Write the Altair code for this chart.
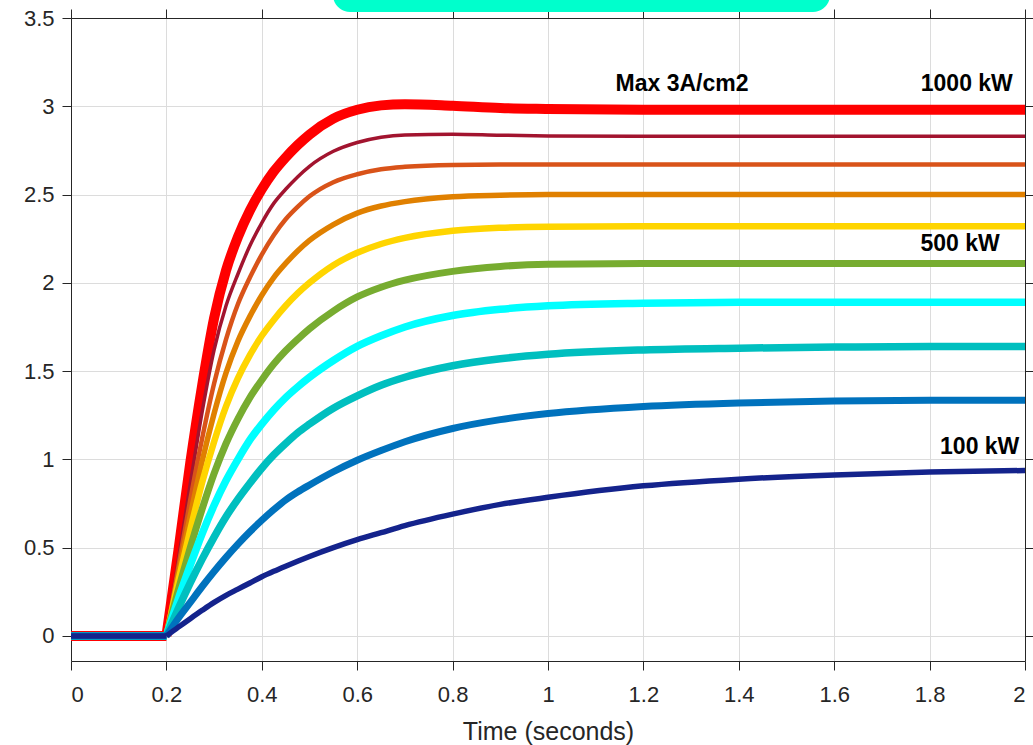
import altair as alt
import pandas as pd

times = [0.0, 0.2, 0.225, 0.25, 0.275, 0.3, 0.325, 0.35, 0.375, 0.4, 0.425, 0.45,
         0.475, 0.5, 0.55, 0.6, 0.65, 0.7, 0.8, 0.9, 1.0, 1.2, 1.4, 1.6, 1.8, 2.0]

series_names = ["1000 kW", "900 kW", "800 kW", "700 kW", "600 kW",
                "500 kW", "400 kW", "300 kW", "200 kW", "100 kW"]

s1000 = [0, 0, 0.48, 0.98, 1.42, 1.80, 2.07, 2.26, 2.41, 2.53, 2.63, 2.71, 2.78, 2.84, 2.93, 2.98, 3.005, 3.012, 3.003, 2.99, 2.985, 2.98, 2.98, 2.98, 2.98, 2.98]
s900 = [0, 0, 0.43, 0.86, 1.27, 1.62, 1.87, 2.05, 2.21, 2.34, 2.45, 2.53, 2.60, 2.66, 2.745, 2.795, 2.825, 2.838, 2.842, 2.836, 2.832, 2.83, 2.83, 2.83, 2.83, 2.83]
s800 = [0, 0, 0.39, 0.77, 1.12, 1.43, 1.68, 1.88, 2.03, 2.16, 2.27, 2.36, 2.43, 2.49, 2.57, 2.615, 2.643, 2.657, 2.668, 2.67, 2.67, 2.67, 2.67, 2.67, 2.67, 2.67]
s700 = [0, 0, 0.35, 0.68, 0.99, 1.26, 1.49, 1.67, 1.81, 1.93, 2.03, 2.11, 2.18, 2.24, 2.33, 2.395, 2.435, 2.46, 2.487, 2.496, 2.5, 2.5, 2.5, 2.5, 2.5, 2.5]
s600 = [0, 0, 0.31, 0.6, 0.87, 1.1, 1.3, 1.46, 1.59, 1.70, 1.79, 1.87, 1.94, 2.0, 2.1, 2.17, 2.22, 2.255, 2.295, 2.312, 2.318, 2.32, 2.32, 2.32, 2.32, 2.32]
s500 = [0, 0, 0.26, 0.5, 0.72, 0.92, 1.09, 1.23, 1.35, 1.45, 1.54, 1.615, 1.68, 1.74, 1.84, 1.92, 1.975, 2.015, 2.065, 2.093, 2.105, 2.11, 2.11, 2.11, 2.11, 2.11]
s400 = [0, 0, 0.21, 0.4, 0.58, 0.74, 0.88, 1.0, 1.11, 1.2, 1.28, 1.35, 1.41, 1.465, 1.56, 1.64, 1.70, 1.75, 1.815, 1.85, 1.87, 1.885, 1.89, 1.89, 1.89, 1.89]
s300 = [0, 0, 0.155, 0.3, 0.435, 0.56, 0.675, 0.775, 0.865, 0.95, 1.025, 1.09, 1.15, 1.2, 1.29, 1.36, 1.42, 1.465, 1.53, 1.57, 1.595, 1.62, 1.63, 1.636, 1.64, 1.64]
s200 = [0, 0, 0.1, 0.19, 0.28, 0.365, 0.445, 0.52, 0.59, 0.655, 0.715, 0.77, 0.815, 0.855, 0.93, 0.995, 1.05, 1.1, 1.175, 1.225, 1.26, 1.3, 1.32, 1.33, 1.335, 1.335]
s100 = [0, 0, 0.05, 0.098, 0.145, 0.19, 0.23, 0.265, 0.3, 0.335, 0.366, 0.395, 0.423, 0.45, 0.5, 0.545, 0.585, 0.625, 0.69, 0.745, 0.785, 0.85, 0.888, 0.912, 0.928, 0.937]

all_series = [s1000, s900, s800, s700, s600, s500, s400, s300, s200, s100]

colors = ["#FF0000", "#A2142F", "#D95319", "#E08000", "#FFD500",
          "#77AC30", "#00FFFF", "#00BFBF", "#0072BD", "#14238C"]
widths = [10, 3.5, 4.5, 5.5, 6.5, 7, 7.5, 7.5, 7, 5.5]

ann_text = ["Max 3A/cm2", "1000 kW", "500 kW", "100 kW"]
ann_x = [1.281, 1.878, 1.864, 1.905]
ann_y = [3.125, 3.125, 2.22, 1.068]

x_ticks = [0, 0.2, 0.4, 0.6, 0.8, 1.0, 1.2, 1.4, 1.6, 1.8, 2.0]
y_ticks = [0, 0.5, 1.0, 1.5, 2.0, 2.5, 3.0, 3.5]

rows = []
for order, (name, vals) in enumerate(zip(series_names, all_series)):
    for t, v in zip(times, vals):
        seg_list = []
        if t <= 0.2:
            seg_list.append("flat")
        if t >= 0.2:
            seg_list.append("rise")
        for seg in seg_list:
            rows.append({"series": name, "order": order, "seg": name + seg,
                         "t": t, "v": v})
df = pd.DataFrame(rows)
ann = pd.DataFrame({"label": ann_text, "tx": ann_x, "ty": ann_y})

xscale = alt.Scale(domain=[0, 2], nice=False, zero=False)
yscale = alt.Scale(domain=[-0.142, 3.5], nice=False, zero=False)

axis_common = dict(
    domainColor="#262626", tickColor="#262626", labelColor="#262626",
    titleColor="#262626", tickSize=9, labelFont="Liberation Sans",
    titleFont="Liberation Sans", labelFontSize=22, titleFontSize=25,
    titleFontWeight="normal", gridColor="#DCDCDC",
)

lines = alt.Chart(df).mark_line(interpolate="monotone", strokeCap="butt").encode(
    x=alt.X("t:Q", scale=xscale,
            axis=alt.Axis(values=x_ticks, format="~g", title="Time (seconds)",
                          grid=True, labelPadding=14, titlePadding=14, **axis_common)),
    y=alt.Y("v:Q", scale=yscale,
            axis=alt.Axis(values=y_ticks, format="~g", title=None, grid=True,
                          labelPadding=8, **axis_common)),
    color=alt.Color("series:N", scale=alt.Scale(domain=series_names, range=colors), legend=None),
    strokeWidth=alt.StrokeWidth("series:N",
                                scale=alt.Scale(type="ordinal", domain=series_names, range=widths),
                                legend=None),
    detail="seg:N",
    order=alt.Order("t:Q"),
)

frame = alt.Chart(df).mark_point(opacity=0).encode(
    x=alt.X("t:Q", scale=xscale,
            axis=alt.Axis(orient="top", values=x_ticks, labels=False, title=None,
                          grid=False, **axis_common)),
    y=alt.Y("v:Q", scale=yscale,
            axis=alt.Axis(orient="right", values=y_ticks, labels=False, title=None,
                          grid=False, **axis_common)),
)

labels = alt.Chart(ann).mark_text(
    font="Liberation Sans", fontWeight="bold", fontSize=23, color="#000000",
    align="center", baseline="middle",
).encode(
    x=alt.X("tx:Q", scale=xscale, axis=None),
    y=alt.Y("ty:Q", scale=yscale, axis=None),
    text="label:N",
)

box = alt.Chart(pd.DataFrame({"a": [0]})).mark_rect(
    color="#00FFCC", cornerRadius=18
).encode(
    x=alt.value(262), x2=alt.value(759), y=alt.value(-40), y2=alt.value(-6)
)

chart = alt.layer(box, lines, frame, labels).resolve_axis(
    x="independent", y="independent"
).properties(
    width=954, height=643,
    autosize=alt.AutoSizeParams(type="none"),
    padding={"left": 71, "top": 18, "right": 8, "bottom": 84},
    background="white",
).configure_view(stroke=None)

chart.save("out.html", embed_options={"renderer": "svg", "actions": False})
